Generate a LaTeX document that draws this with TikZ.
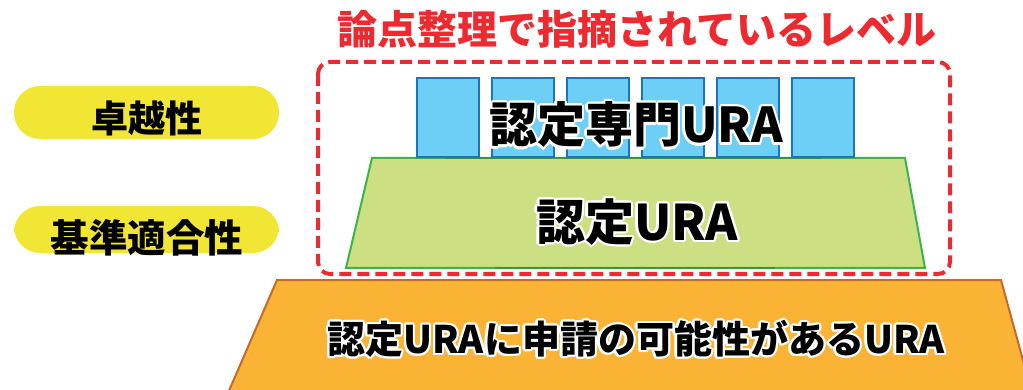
\documentclass[tikz,border=0pt]{standalone}
\usepackage{fontspec}
\newfontfamily\cjk{Noto Sans CJK JP}
\usepackage[copies]{contour}
\contourlength{2.2pt}
\contournumber{16}
\definecolor{pillY}{HTML}{F1E634}
\definecolor{dashR}{HTML}{EC2A30}
\definecolor{blueF}{HTML}{6DCFF6}
\definecolor{blueD}{HTML}{1C75BC}
\definecolor{greenF}{HTML}{CCDF83}
\definecolor{greenD}{HTML}{3BB44A}
\definecolor{orF}{HTML}{FBB335}
\definecolor{orD}{HTML}{C46A2C}
\tikzset{
  pill/.style={fill=pillY, rounded corners=26pt},
  pilltext/.style={font=\cjk\bfseries\fontsize{37}{40}\selectfont, text=black, inner sep=0pt},
  col/.style={fill=blueF, draw=blueD, line width=2pt},
  glowtext/.style={inner sep=0pt, text=black},
}
\begin{document}
\begin{tikzpicture}[x=1pt,y=-1pt]
\useasboundingbox (0,0) rectangle (1023,390);
% yellow pills
\path[pill] (14,86) rectangle (279,139);
\path[pill] (14,206) rectangle (279,253);
\node[pilltext] (t1) at (147,118) {卓越性};
\node[pilltext, font=\cjk\bfseries\fontsize{38.5}{40}\selectfont] (t2) at (147,238) {基準適合性};
% title
\node[font=\cjk\bfseries\fontsize{40}{44}\selectfont, text=dashR, inner sep=0pt] (title) at (637,29) {論点整理で指摘されているレベル};
% orange base
\path[fill=orF, draw=orD, line width=2pt] (277,280) -- (1001,280) -- (1032,393) -- (228,393) -- cycle;
% green trapezoid
\path[fill=greenF, draw=greenD, line width=2pt] (372,158) -- (905,158) -- (925,268) -- (346,268) -- cycle;
\draw[greenD!85!black, line width=2.5pt] (445,158) -- (822,158);
\draw[greenD!85!black, line width=2.5pt] (495,268) -- (775,268);
% blue columns
\foreach \i in {0,...,5} {
  \path[col] ({417+75*\i},78) rectangle ({479+75*\i},157);
}
% dashed frame
\draw[dashR, line width=4pt, dash pattern=on 12pt off 6pt, rounded corners=12pt] (318,62) rectangle (950,274);
% texts
\node[glowtext, font=\cjk\bfseries\fontsize{48}{50}\selectfont] (spec) at (636,126) {\contour{white}{認定専門URA}};
\node[glowtext, font=\cjk\bfseries\fontsize{49}{52}\selectfont] (cert) at (637,223) {\contour{white}{認定URA}};
\node[glowtext, font=\cjk\bfseries\fontsize{38}{40}\selectfont] (base) at (636,340) {\contour{white}{認定URAに申請の可能性があるURA}};
\end{tikzpicture}
\end{document}
